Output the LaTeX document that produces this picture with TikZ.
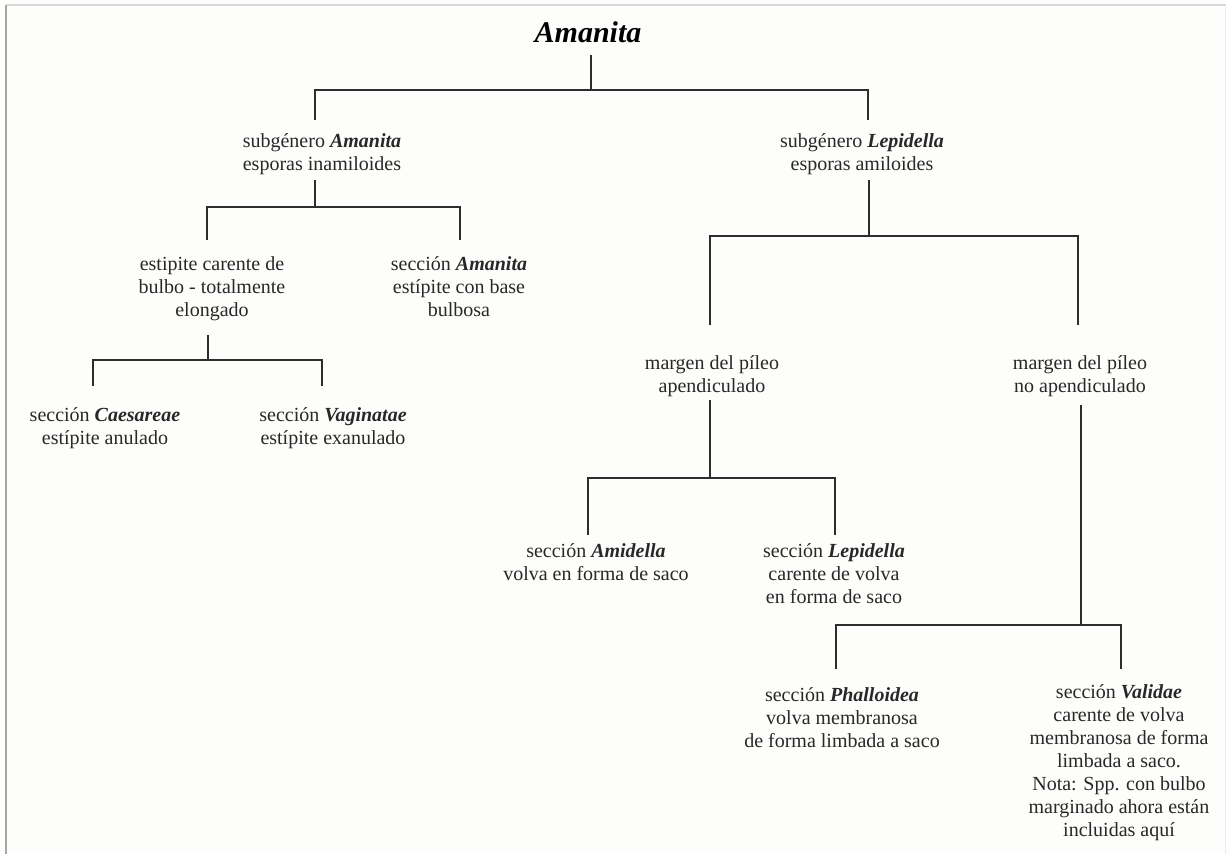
\documentclass[tikz,border=0pt]{standalone}
\usepackage{fontspec}
\setmainfont{Liberation Serif}
\definecolor{bgc}{RGB}{253,253,251}
\definecolor{linec}{RGB}{45,45,45}
\definecolor{txtc}{RGB}{40,40,40}
\begin{document}
\begin{tikzpicture}[x=1pt,y=-1pt,
  lbl/.style={anchor=north, inner sep=0pt, align=center, text=txtc,
              font=\fontsize{20}{23}\selectfont},
  ttl/.style={anchor=base, inner sep=0pt, text=black,
              font=\fontsize{30}{36}\selectfont\bfseries\itshape},
  branch/.style={draw=linec, line width=1.6pt},
]
\useasboundingbox (0,0) rectangle (1226,854);
\fill[bgc] (0,0) rectangle (1226,854);
\draw[draw={rgb,255:red,215;green,215;blue,215}, line width=1.5pt] (6,5) -- (1226,5);
\draw[draw={rgb,255:red,165;green,165;blue,165}, line width=1.5pt] (6,5) -- (6,854);
\draw[draw={rgb,255:red,235;green,235;blue,235}, line width=1pt] (1225,5) -- (1225,854);

\newcommand{\bi}[1]{\textbf{\textit{#1}}}
% baseline-to-north offset: strut height 0.7*23 = 16.1
\node[ttl] (root) at (588,42) {Amanita};
\node[lbl] (subA) at (322,147-16.1) {\strut subgénero \bi{Amanita}\\esporas inamiloides};
\node[lbl] (subL) at (862,147-16.1) {\strut subgénero \bi{Lepidella}\\esporas amiloides};
\node[lbl] (estip) at (212,270-16.1) {\strut estipite carente de\\bulbo - totalmente\\elongado};
\node[lbl] (secA) at (459,270-16.1) {\strut sección \bi{Amanita}\\estípite con base\\bulbosa};
\node[lbl] (caes) at (105,421-16.1) {\strut sección \bi{Caesareae}\\estípite anulado};
\node[lbl] (vag) at (333,421-16.1) {\strut sección \bi{Vaginatae}\\estípite exanulado};
\node[lbl] (mapen) at (712,369-16.1) {\strut margen del píleo\\apendiculado};
\node[lbl] (mnoap) at (1080,369-16.1) {\strut margen del píleo\\no apendiculado};
\node[lbl] (amid) at (596,557-16.1) {\strut sección \bi{Amidella}\\volva en forma de saco};
\node[lbl] (lepi) at (834,557-16.1) {\strut sección \bi{Lepidella}\\carente de volva\\en forma de saco};
\node[lbl] (phal) at (842,701-16.1) {\strut sección \bi{Phalloidea}\\volva membranosa\\de forma limbada a saco};
\node[lbl] (vali) at (1119,698-16.1) {\strut sección \bi{Validae}\\carente de volva\\membranosa de forma\\limbada a saco.\\Nota: Spp. con bulbo\\marginado ahora están\\incluidas aquí};

% connector end points
\coordinate (rS) at (591,55);   \coordinate (rJ) at (591,90);
\coordinate (subAT) at (315,120); \coordinate (subLT) at (868,120);
\coordinate (subAS) at (315,180); \coordinate (subAJ) at (315,207);
\coordinate (estipT) at (207,240); \coordinate (secAT) at (460,240);
\coordinate (estipS) at (208,335); \coordinate (estipJ) at (208,360);
\coordinate (caesT) at (93,386); \coordinate (vagT) at (322,386);
\coordinate (subLS) at (869,180); \coordinate (subLJ) at (869,236);
\coordinate (mapenT) at (710,325); \coordinate (mnoapT) at (1078,325);
\coordinate (mapenS) at (710,400); \coordinate (mapenJ) at (710,478);
\coordinate (amidT) at (588,535); \coordinate (lepiT) at (835,535);
\coordinate (mnoapS) at (1081,405); \coordinate (mnoapJ) at (1081,625);
\coordinate (phalT) at (836,669); \coordinate (valiT) at (1121,669);

\draw[branch] (rS) -- (rJ);
\draw[branch] (subAT) |- (rJ) -| (subLT);
\draw[branch] (subAS) -- (subAJ);
\draw[branch] (estipT) |- (subAJ) -| (secAT);
\draw[branch] (estipS) -- (estipJ);
\draw[branch] (caesT) |- (estipJ) -| (vagT);
\draw[branch] (subLS) -- (subLJ);
\draw[branch] (mapenT) |- (subLJ) -| (mnoapT);
\draw[branch] (mapenS) -- (mapenJ);
\draw[branch] (amidT) |- (mapenJ) -| (lepiT);
\draw[branch] (mnoapS) -- (mnoapJ);
\draw[branch] (phalT) |- (mnoapJ) -| (valiT);
\end{tikzpicture}
\end{document}
